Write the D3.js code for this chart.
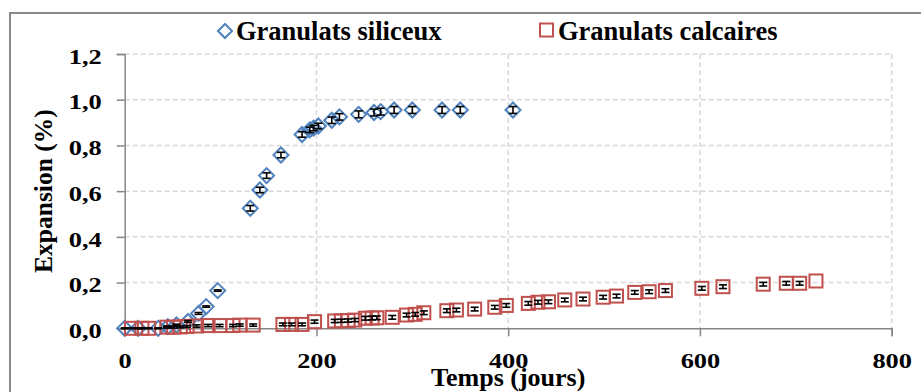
<!DOCTYPE html>
<html>
<head>
<meta charset="utf-8">
<script src="https://cdn.jsdelivr.net/npm/d3@7"></script>
<style>
  body { margin: 0; background: #fff; }
  svg { display: block; }
</style>
</head>
<body>
<div id="vis"></div>
<script>
// temps (jours) et expansion (%)
var siliceuxJours = [0, 14, 35, 45, 54, 66, 77, 85, 97, 131, 141, 148, 163, 185, 193, 197, 202, 216, 224, 244, 260, 267, 281, 300, 331, 350, 405];
var siliceuxExp   = [0, 0, 0, 0.007, 0.015, 0.03, 0.065, 0.095, 0.165, 0.525, 0.605, 0.668, 0.758, 0.848, 0.868, 0.876, 0.885, 0.91, 0.925, 0.936, 0.944, 0.948, 0.955, 0.955, 0.955, 0.955, 0.955];
var siliceuxErr   = [0.002, 0.002, 0.002, 0.003, 0.003, 0.004, 0.004, 0.003, 0.003, 0.012, 0.012, 0.012, 0.012, 0.012, 0.012, 0.012, 0.012, 0.014, 0.014, 0.015, 0.015, 0.015, 0.015, 0.015, 0.015, 0.015, 0.015];

var calcairesJours = [7, 18, 25, 44, 51, 58, 65, 75, 87, 99, 113, 120, 134, 165, 174, 185, 198, 219, 226, 233, 240, 251, 258, 263, 279, 294, 303, 312, 336, 346, 365, 386, 398, 421, 431, 442, 459, 478, 499, 513, 532, 547, 564, 602, 624, 666, 690, 704, 721];
var calcairesExp   = [0, 0, 0, 0.005, 0.005, 0.006, 0.008, 0.01, 0.012, 0.012, 0.012, 0.014, 0.014, 0.017, 0.017, 0.017, 0.029, 0.032, 0.033, 0.034, 0.036, 0.044, 0.045, 0.046, 0.048, 0.058, 0.061, 0.068, 0.077, 0.08, 0.084, 0.092, 0.1, 0.109, 0.114, 0.116, 0.124, 0.128, 0.136, 0.141, 0.157, 0.16, 0.165, 0.175, 0.182, 0.193, 0.197, 0.197, 0.207];
var calcairesErr   = [0.002, 0.002, 0.002, 0.004, 0.004, 0.004, 0.004, 0.005, 0.005, 0.005, 0.005, 0.005, 0.005, 0.006, 0.006, 0.006, 0.007, 0.007, 0.007, 0.007, 0.007, 0.008, 0.008, 0.008, 0.008, 0.008, 0.008, 0.008, 0.008, 0.008, 0.008, 0.008, 0.008, 0.008, 0.008, 0.008, 0.008, 0.008, 0.008, 0.008, 0.008, 0.008, 0.008, 0.008, 0.008, 0.008, 0.008, 0.008, 0];

var xTicks = [0, 200, 400, 600, 800];
var yTicks = [0, 0.2, 0.4, 0.6, 0.8, 1.0, 1.2];
var legendLabels = ["Granulats siliceux", "Granulats calcaires"];
var FONT = "'Liberation Serif', 'Times New Roman', serif";

function toPoints(jours, exp, err){
	return jours.map(function(d, i){ return {x: d, y: exp[i], e: err[i]}; });
}

function serif(sel, size){
	return sel.attr("font-family", FONT)
		.attr("font-weight", "bold")
		.attr("font-size", size)
		.attr("fill", "#000");
}

gen_vis();

function gen_vis()
{
	var w = 921, h = 392;
	var left = 124.7, right = 891.7, top = 54, bottom = 328.3;

	var svg = d3.select("#vis")
		.append("svg")
		.attr("width", w)
		.attr("height", h);

	// cadre du graphique
	svg.append("rect")
		.attr("x", 10).attr("y", 13)
		.attr("width", 930).attr("height", 400)
		.attr("fill", "none")
		.attr("stroke", "#8a8a8a")
		.attr("stroke-width", 2);

	var x = d3.scaleLinear().domain([0, 800]).range([left, right]);
	var y = d3.scaleLinear().domain([0, 1.2]).range([bottom, top]);

	var fmt = function(d){ return d3.format(".1f")(d).replace(".", ","); };

	// quadrillage
	svg.append("g")
		.selectAll("line")
		.data(yTicks.filter(function(d){ return d > 0; }))
		.enter()
		.append("line")
		.attr("x1", left).attr("x2", right)
		.attr("y1", function(d){ return y(d); })
		.attr("y2", function(d){ return y(d); })
		.attr("stroke", "#d9d9d9")
		.attr("stroke-width", 1.5)
		.attr("stroke-dasharray", "5,3");

	svg.append("g")
		.selectAll("line")
		.data(xTicks.filter(function(d){ return d > 0; }))
		.enter()
		.append("line")
		.attr("y1", top).attr("y2", bottom)
		.attr("x1", function(d){ return x(d); })
		.attr("x2", function(d){ return x(d); })
		.attr("stroke", "#d9d9d9")
		.attr("stroke-width", 1.5)
		.attr("stroke-dasharray", "5,3");

	// axes
	var xAxis = svg.append("g")
		.attr("transform", "translate(0," + bottom + ")")
		.call(d3.axisBottom(x).tickValues(xTicks).tickSize(8).tickPadding(10).tickFormat(d3.format("d")));
	var yAxis = svg.append("g")
		.attr("transform", "translate(" + left + ",0)")
		.call(d3.axisLeft(y).tickValues(yTicks).tickSize(8).tickPadding(15).tickFormat(fmt));

	[xAxis, yAxis].forEach(function(g){
		g.attr("font-family", FONT);
		g.select(".domain").attr("stroke", "#868686").attr("stroke-width", 1.5);
		g.selectAll(".tick line").attr("stroke", "#868686").attr("stroke-width", 1.5);
		serif(g.selectAll(".tick text"), 22)
			.attr("lengthAdjust", "spacingAndGlyphs")
			.attr("textLength", function(){ return this.getComputedTextLength() * 1.2; });
	});
	xAxis.selectAll(".tick text").attr("y", 39.5).attr("dy", null);
	yAxis.selectAll(".tick text").attr("dy", "0.42em");

	// titres des axes
	serif(svg.append("text"), 26)
		.attr("x", (left + right) / 2)
		.attr("y", 386)
		.attr("text-anchor", "middle")
		.text("Temps (jours)");

	serif(svg.append("text"), 25.5)
		.attr("transform", "translate(52," + ((top + bottom) / 2) + ") rotate(-90)")
		.attr("text-anchor", "middle")
		.text("Expansion (%)");

	var sil = toPoints(siliceuxJours, siliceuxExp, siliceuxErr);
	var cal = toPoints(calcairesJours, calcairesExp, calcairesErr);

	var blue = "#4f81bd", red = "#c0504d";

	// marqueurs
	var diamond = function(cx, cy, r){
		return "M" + cx + "," + (cy - r) + "L" + (cx + r) + "," + cy + "L" + cx + "," + (cy + r) + "L" + (cx - r) + "," + cy + "Z";
	};

	svg.append("g")
		.selectAll("path")
		.data(sil)
		.enter()
		.append("path")
		.attr("d", function(d){ return diamond(x(d.x), y(d.y), 7.5); })
		.attr("fill", "none")
		.attr("stroke", blue)
		.attr("stroke-width", 2);

	svg.append("g")
		.selectAll("rect")
		.data(cal)
		.enter()
		.append("rect")
		.attr("x", function(d){ return x(d.x) - 6.5; })
		.attr("y", function(d){ return y(d.y) - 6.5; })
		.attr("width", 13).attr("height", 13)
		.attr("fill", "none")
		.attr("stroke", red)
		.attr("stroke-width", 2);

	// barres d'erreur
	var errs = sil.concat(cal).filter(function(d){ return d.e > 0; });
	var eb = svg.append("g").attr("stroke", "#000").attr("stroke-width", 1.6);
	eb.selectAll("line.v")
		.data(errs).enter().append("line")
		.attr("x1", function(d){ return x(d.x); })
		.attr("x2", function(d){ return x(d.x); })
		.attr("y1", function(d){ return y(d.y - d.e); })
		.attr("y2", function(d){ return y(d.y + d.e); });
	[-1, 1].forEach(function(s){
		eb.selectAll("line.c" + s)
			.data(errs).enter().append("line")
			.attr("x1", function(d){ return x(d.x) - 4; })
			.attr("x2", function(d){ return x(d.x) + 4; })
			.attr("y1", function(d){ return y(d.y + s * d.e); })
			.attr("y2", function(d){ return y(d.y + s * d.e); });
	});

	// légende
	var leg = svg.append("g");
	leg.append("path")
		.attr("d", diamond(225, 31, 7))
		.attr("fill", "none").attr("stroke", blue).attr("stroke-width", 2);
	serif(leg.append("text"), 26.5)
		.attr("x", 236).attr("y", 39.5)
		.text(legendLabels[0]);
	leg.append("rect")
		.attr("x", 540).attr("y", 23.5).attr("width", 13).attr("height", 13)
		.attr("fill", "none").attr("stroke", red).attr("stroke-width", 2);
	serif(leg.append("text"), 26.5)
		.attr("x", 558).attr("y", 39.5)
		.text(legendLabels[1]);
}
</script>
</body>
</html>
